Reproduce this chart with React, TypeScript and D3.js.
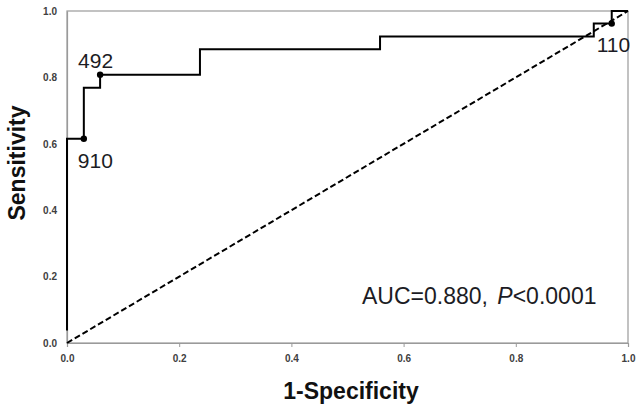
import {useEffect, useRef} from "react";
import * as d3 from "d3";

// ROC corner points (1 - specificity, sensitivity)
const fpr = [0, 0.03, 0.059, 0.237, 0.558, 0.939, 0.971, 1.0];
const tpr = [0.038, 0.615, 0.769, 0.808, 0.885, 0.923, 0.962, 1.0];

// labelled cut-off points
const cutLabels = ["910", "492", "110"];
const cutFpr = [0.03, 0.059, 0.971];
const cutTpr = [0.615, 0.808, 0.962];

const ticks = [0, 0.2, 0.4, 0.6, 0.8, 1.0];

const App = () => {
	const svgRef = useRef<SVGSVGElement | null>(null);

	useEffect(() => {
		const width = 641;
		const height = 412;
		const margin = {left: 67, right: 13, top: 11, bottom: 69};
		const font = "Liberation Sans, Arial, sans-serif";

		const x = d3.scaleLinear().domain([0, 1]).range([margin.left, width - margin.right]);
		const y = d3.scaleLinear().domain([0, 1]).range([height - margin.bottom, margin.top]);

		const svg = d3.select(svgRef.current)
			.attr("width", width)
			.attr("height", height)
			.attr("viewBox", [0, 0, width, height].join(" "));

		svg.selectAll("*").remove();

		svg.append("rect")
			.attr("width", width)
			.attr("height", height)
			.attr("fill", "#fff");

		// box around the plot
		svg.append("rect")
			.attr("x", x(0))
			.attr("y", y(1))
			.attr("width", x(1) - x(0))
			.attr("height", y(0) - y(1))
			.attr("fill", "none")
			.attr("stroke", "#9a9a9a")
			.attr("stroke-width", 1.2);

		// x axis
		const xAxis = svg.append("g")
			.attr("transform", `translate(0,${y(0)})`)
			.call(d3.axisBottom(x).tickValues(ticks).tickFormat(d3.format(".1f")).tickSize(4).tickPadding(8));
		xAxis.select(".domain").attr("stroke", "#9a9a9a").attr("stroke-width", 1.2);
		xAxis.selectAll(".tick line").attr("stroke", "#9a9a9a");

		// y axis
		const yAxis = svg.append("g")
			.attr("transform", `translate(${x(0)},0)`)
			.call(d3.axisLeft(y).tickValues(ticks).tickFormat(d3.format(".1f")).tickSize(0).tickPadding(10));
		yAxis.select(".domain").attr("stroke", "#9a9a9a").attr("stroke-width", 1.2);

		svg.selectAll(".tick text")
			.attr("font-family", font)
			.attr("font-size", 10)
			.attr("font-weight", "bold")
			.attr("fill", "#404040");

		// reference diagonal
		svg.append("line")
			.attr("x1", x(0))
			.attr("y1", y(0))
			.attr("x2", x(1))
			.attr("y2", y(1))
			.attr("stroke", "#000")
			.attr("stroke-width", 2)
			.attr("stroke-dasharray", "6,3");

		// ROC step curve
		const pts = fpr.map((f, i) => [f, tpr[i]] as [number, number]);
		const line = d3.line<[number, number]>()
			.x((d) => x(d[0]))
			.y((d) => y(d[1]))
			.curve(d3.curveStepBefore);
		svg.append("path")
			.attr("d", line(pts))
			.attr("fill", "none")
			.attr("stroke", "#000")
			.attr("stroke-width", 2);

		// cut-off dots and labels
		svg.append("g")
			.selectAll("circle")
			.data(cutLabels)
			.join("circle")
			.attr("cx", (_, i) => x(cutFpr[i]))
			.attr("cy", (_, i) => y(cutTpr[i]))
			.attr("r", 3.2)
			.attr("fill", "#000");

		const labelOffset = [[-6, 29], [-22, -7], [-15, 28]];
		svg.append("g")
			.selectAll("text")
			.data(cutLabels)
			.join("text")
			.text((d) => d)
			.attr("x", (_, i) => x(cutFpr[i]) + labelOffset[i][0])
			.attr("y", (_, i) => y(cutTpr[i]) + labelOffset[i][1])
			.attr("font-family", font)
			.attr("font-size", 21)
			.attr("fill", "#1c1c24");

		// AUC annotation
		const auc = svg.append("text")
			.attr("x", 362)
			.attr("y", 304)
			.attr("font-family", font)
			.attr("font-size", 23)
			.attr("fill", "#1c1c24");
		auc.append("tspan").text("AUC=0.880, ");
		auc.append("tspan").attr("dx", 3).attr("font-style", "italic").text("P");
		auc.append("tspan").text("<0.0001");

		// axis titles
		svg.append("text")
			.attr("x", 351)
			.attr("y", 399)
			.attr("text-anchor", "middle")
			.attr("font-family", font)
			.attr("font-size", 23)
			.attr("font-weight", "bold")
			.attr("fill", "#111")
			.text("1-Specificity");

		svg.append("text")
			.attr("transform", `translate(25,163) rotate(-90)`)
			.attr("text-anchor", "middle")
			.attr("font-family", font)
			.attr("font-size", 23)
			.attr("font-weight", "bold")
			.attr("fill", "#111")
			.text("Sensitivity");
	}, []);

	return (
		<div style={{position: "absolute", left: 0, top: 0}}>
			<svg ref={svgRef} style={{display: "block"}}></svg>
		</div>
	);
};

export default App;
